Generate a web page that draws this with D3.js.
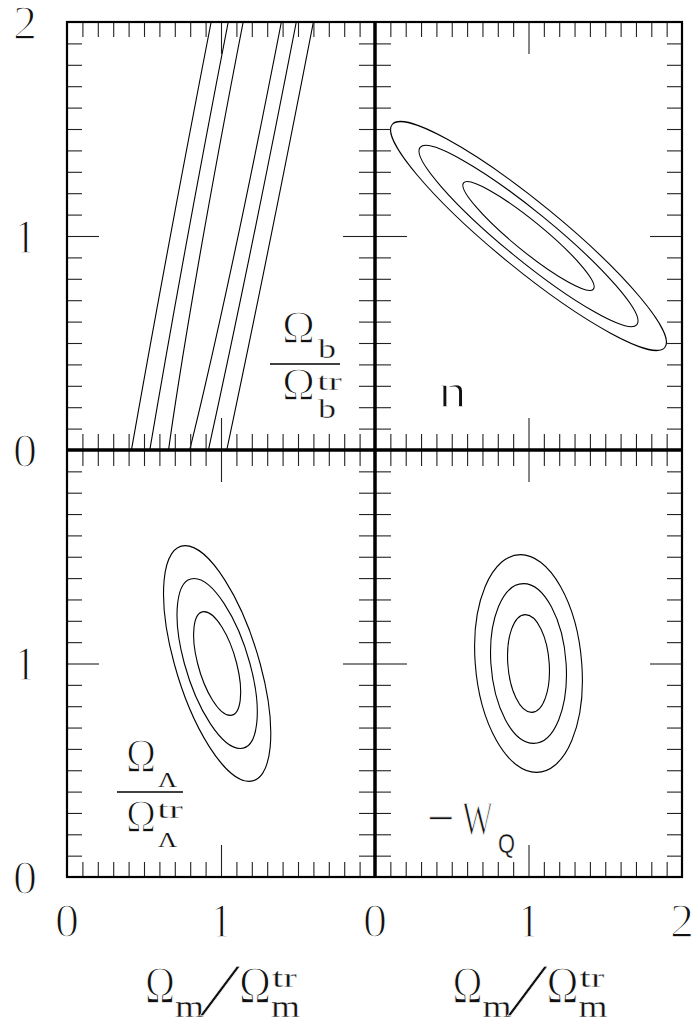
<!DOCTYPE html>
<html><head><meta charset="utf-8">
<script src="https://cdn.jsdelivr.net/npm/d3@7"></script>
<style>html,body{margin:0;padding:0;background:#fff;}svg{display:block;}</style>
</head><body>
<svg id="c" width="698" height="1024"></svg>
<script>
// ---- data ----
const tickValues = [0, 1, 2];
const tickLabels = ["0", "1", "2"];
const minorTicks = [0.1,0.2,0.3,0.4,0.5,0.6,0.7,0.8,0.9,1.1,1.2,1.3,1.4,1.5,1.6,1.7,1.8,1.9];
const majorTicks = [1];
// contours: centre (cx,cy) and two conjugate half-diameters u, v (data units)
const contoursOmegaB = [
  {cx:1.268, cy:2.0, ux:0.124, uy:0, vx:0.648, vy:2.4},
  {cx:1.268, cy:2.0, ux:0.221, uy:0, vx:1.053, vy:3.9},
  {cx:1.268, cy:2.0, ux:0.332, uy:0, vx:1.458, vy:5.4}
];
const contoursN = [
  {cx:1.0, cy:1.0, ux:0.423, uy:-0.248, vx:0.0618, vy:0.0543},
  {cx:1.0, cy:1.0, ux:0.706, uy:-0.414, vx:0.0990, vy:0.0870},
  {cx:1.0, cy:1.0, ux:0.888, uy:-0.521, vx:0.1360, vy:0.1195}
];
const contoursOmegaL = [
  {cx:0.975, cy:1.0, ux:0.127, uy:0, vx:-0.085, vy:0.243},
  {cx:0.975, cy:1.0, ux:0.213, uy:0, vx:-0.150, vy:0.398},
  {cx:0.975, cy:1.0, ux:0.279, uy:0, vx:-0.208, vy:0.552}
];
const contoursW = [
  {cx:1.0, cy:1.0, ux:0.135, uy:0, vx:-0.020, vy:0.229},
  {cx:1.0, cy:1.0, ux:0.245, uy:0, vx:-0.033, vy:0.374},
  {cx:1.0, cy:1.0, ux:0.347, uy:0, vx:-0.052, vy:0.510}
];

// ---- layout ----
const svg = d3.select("#c");
const X0 = 67, XM = 375, X1 = 682, Y0 = 22, YM = 450, Y1 = 877;
const xL = d3.scaleLinear().domain([0,2]).range([X0, XM]);
const xR = d3.scaleLinear().domain([0,2]).range([XM, X1]);
const yT = d3.scaleLinear().domain([0,2]).range([YM, Y0]);
const yB = d3.scaleLinear().domain([0,2]).range([Y1, YM]);
const serif = "'Liberation Serif', 'DejaVu Serif', serif";

const panels = [
  {x:xL, y:yT, data:contoursOmegaB, id:"p1"},
  {x:xR, y:yT, data:contoursN, id:"p2"},
  {x:xL, y:yB, data:contoursOmegaL, id:"p3"},
  {x:xR, y:yB, data:contoursW, id:"p4"}
];
const defs = svg.append("defs");
panels.forEach(p => {
  const [rx0, rx1] = p.x.range(), [ry1, ry0] = p.y.range();
  defs.append("clipPath").attr("id", "clip-" + p.id).append("rect")
    .attr("x", rx0).attr("y", ry0).attr("width", rx1 - rx0).attr("height", ry1 - ry0);
  const kx = p.x(1) - p.x(0), ky = p.y(0) - p.y(1);
  svg.append("g").attr("clip-path", `url(#clip-${p.id})`)
    .selectAll("circle").data(p.data).join("circle")
    .attr("r", 1).attr("cx", 0).attr("cy", 0)
    .attr("transform", d => `matrix(${kx*d.ux},${-ky*d.uy},${kx*d.vx},${-ky*d.vy},${p.x(d.cx)},${p.y(d.cy)})`)
    .attr("fill", "none").attr("stroke", "#000").attr("stroke-width", 1.1)
    .attr("vector-effect", "non-scaling-stroke");
});

// ---- ticks via d3 axes ----
function ax(gen, scale, vals, size, tx, ty) {
  const g = svg.append("g").attr("transform", `translate(${tx},${ty})`)
    .call(gen(scale).tickValues(vals).tickSize(size).tickFormat(""));
  g.select(".domain").remove();
  g.selectAll("line").attr("stroke", "#222").attr("stroke-width", 1.1);
}
function tickSet(gen, scale, tx, ty, minor, major) {
  ax(gen, scale, minorTicks, minor, tx, ty);
  ax(gen, scale, majorTicks, major, tx, ty);
}
[yT, yB].forEach(s => {
  tickSet(d3.axisRight, s, X0, 0, 15, 32);
  tickSet(d3.axisLeft, s, X1, 0, 15, 32);
  tickSet(d3.axisLeft, s, XM, 0, 16, 32);
  tickSet(d3.axisRight, s, XM, 0, 16, 32);
});
[xL, xR].forEach(s => {
  tickSet(d3.axisBottom, s, 0, Y0, 15, 32);
  tickSet(d3.axisTop, s, 0, Y1, 15, 32);
  tickSet(d3.axisTop, s, 0, YM, 16, 32);
  tickSet(d3.axisBottom, s, 0, YM, 16, 32);
});

// ---- frame ----
svg.append("rect").attr("x", X0).attr("y", Y0).attr("width", X1 - X0).attr("height", Y1 - Y0)
  .attr("fill", "none").attr("stroke", "#000").attr("stroke-width", 2.2);
svg.append("line").attr("x1", XM).attr("x2", XM).attr("y1", Y0).attr("y2", Y1)
  .attr("stroke", "#000").attr("stroke-width", 3.5);
svg.append("line").attr("x1", X0).attr("x2", X1).attr("y1", YM).attr("y2", YM)
  .attr("stroke", "#000").attr("stroke-width", 3.5);

// ---- text helper (white outline thins the glyph strokes) ----
function txt(x, y, fs, str, len, fam, thin) {
  const t = svg.append("text").attr("x", x).attr("y", y).attr("font-family", fam || serif)
    .attr("font-size", fs).attr("fill", "#111")
    .attr("stroke", "#fff").attr("stroke-width", thin == null ? (fs >= 40 ? 1.4 : 0.35) : thin)
    .text(str);
  if (len) t.attr("textLength", len).attr("lengthAdjust", "spacingAndGlyphs");
  return t;
}

// ---- tick labels ----
const FS = 48;
[yT, yB].forEach((s, i) => {
  tickValues.forEach((v, j) => {
    if (i === 1 && j === 2) return;
    txt(25, s(v) + 16.5, FS, tickLabels[j]).attr("text-anchor", "middle");
  });
});
[xL, xR].forEach((s, i) => {
  tickValues.forEach((v, j) => {
    if (i === 0 && j === 2) return;
    txt(s(v), 937, FS, tickLabels[j]).attr("text-anchor", "middle");
  });
});

// ---- axis titles ----
[xL(1), xR(1)].forEach(c => {
  txt(c - 76, 1003, 52, "Ω", 30);
  txt(c - 46, 1017, 32, "m", 29);
  svg.append("text").attr("transform", `translate(${c - 21},1015) skewX(-22)`)
    .attr("font-family", serif).attr("font-size", 74).attr("fill", "#111")
    .attr("stroke", "#fff").attr("stroke-width", 0.6).text("/");
  txt(c + 18, 1003, 52, "Ω", 32);
  txt(c + 51, 987, 27, "tr", 25);
  txt(c + 50, 1017, 32, "m", 29);
});

// ---- panel labels ----
// Omega_b / Omega_b^tr
txt(282, 343, 46, "Ω", 33);
txt(318, 358, 27, "b", 18);
svg.append("line").attr("x1", 270).attr("x2", 340).attr("y1", 364).attr("y2", 364)
  .attr("stroke", "#000").attr("stroke-width", 1.3);
txt(282, 400, 46, "Ω", 33);
txt(317, 390, 26, "tr", 25);
txt(318, 418, 27, "b", 18);
// n
txt(438, 407, 48, "n", 29);
// Omega_Lambda / Omega_Lambda^tr
txt(126, 772, 48, "Ω", 30);
txt(158, 787, 22, "Λ", 19, null, 0.1);
svg.append("line").attr("x1", 117).attr("x2", 183).attr("y1", 792).attr("y2", 792)
  .attr("stroke", "#000").attr("stroke-width", 1.3);
txt(126, 832, 46, "Ω", 30);
txt(157, 818, 26, "tr", 26);
txt(158, 847, 22, "Λ", 19, null, 0.1);
// -W_Q
txt(427, 834, 48, "−", 27, null, 0.6);
txt(462, 835, 48, "W", 31);
txt(498, 853, 28, "Q", 17, "'Liberation Sans', Arial, sans-serif");
</script>
</body></html>
